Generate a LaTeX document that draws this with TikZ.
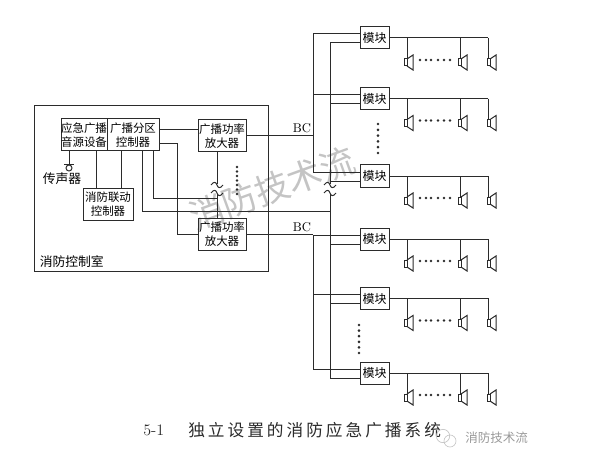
\documentclass[tikz,border=0pt]{standalone}
\usepackage{fontspec}
\usetikzlibrary{positioning}
\newfontfamily\cjk{Noto Sans CJK SC}
\newfontfamily\capfont[LetterSpace=18]{Noto Sans CJK SC}
\definecolor{ink}{HTML}{2B2B2B}
\definecolor{mark}{HTML}{C4C4C4}
\begin{document}
\begin{tikzpicture}[x=0.75pt,y=-0.75pt,
  ln/.style={draw=ink, line width=0.75pt},
  box/.style={draw=ink, line width=0.75pt, outer sep=0pt, inner sep=0pt, align=center, font=\cjk\fontsize{8.6}{11}\selectfont, minimum height=24pt},
  modbox/.style={box, minimum width=21.75pt, minimum height=16.5pt, font=\cjk\fontsize{9}{11}\selectfont},
  lbl/.style={inner sep=0pt, font=\cjk\fontsize{9.6}{11}\selectfont},
  spk/.pic={\draw[ln] (-3,0) rectangle (0,7); \draw[ln] (0,0) -- (6,-4) -- (6,11) -- (0,7);},
  tld/.pic={\draw[ln] (-6,0) .. controls (-3,-4) and (-1,-3) .. (0,0) .. controls (1,3) and (3,4) .. (6,0);}]
\useasboundingbox (0,0) rectangle (592,456);
\node[inner sep=0pt, rotate=20, text=mark, font=\cjk\fontsize{26}{26}\selectfont] (wm) at (272,188) {消防技术流};
\node[draw=ink, line width=0.75pt, minimum width=175.5pt, minimum height=123.75pt, inner sep=0pt] (room) at (151,188.5) {};
\node[lbl, anchor=south west, xshift=4.5pt, yshift=2.5pt] (roomlbl) at (room.south west) {消防控制室};
\node[box, minimum width=34.5pt] (src) at (84,135) {应急广播\\音源设备};
\node[box, minimum width=39pt, right=0pt of src] (ctrl) {广播分区\\控制器};
\node[box, minimum width=36pt, right=29.25pt of ctrl, yshift=-0.75pt] (a1) {广播功率\\放大器};
\node[box, minimum width=36pt, below=49.5pt of a1] (a2) {广播功率\\放大器};
\node[box, minimum width=37.5pt, below=27.75pt of src, xshift=18pt] (link) {消防联动\\控制器};
\node[draw=ink, line width=0.75pt, circle, minimum size=4.5pt, inner sep=0pt] (mic) at (69,168) {};
\node[lbl] (miclbl) at (62,179) {传声器};
\node[inner sep=0pt, font=\fontsize{9.5}{11}\selectfont] (bc1) at (302,128) {BC};
\node[inner sep=0pt, font=\fontsize{9.5}{11}\selectfont] (bc2) at (302,227) {BC};
\node[modbox] (m1) at (374.5,38) {模块};
\node[modbox, below=28.9pt of m1] (m2) {模块};
\node[modbox, below=41.6pt of m2] (m3) {模块};
\node[modbox, below=30.75pt of m3] (m4) {模块};
\node[modbox, below=28.1pt of m4] (m5) {模块};
\node[modbox, below=39.4pt of m5] (m6) {模块};
\coordinate (busa) at (313,0);
\coordinate (busb) at (330,0);
\coordinate (tba) at (217,184);
\coordinate (tbb) at (217,194);
\coordinate (gapa) at (330,184);
\coordinate (gapb) at (330,194);
\coordinate (tc) at (177,0);
\coordinate (ca) at (153,198);
\coordinate (cb) at (142,211);
\coordinate (la) at (96,0);
\coordinate (lb) at (121,0);
\coordinate (da) at (407,0);
\coordinate (db) at (460,0);
\coordinate (dc) at (488,0);
\coordinate (sa) at (407,0);
\coordinate (sb) at (461,0);
\coordinate (sc) at (490,0);
\draw[ln] (mic |- src.south) -- (mic.north);
\draw[ln] ([xshift=-3.75pt]mic.north) -- ([xshift=3.75pt]mic.north);
\draw[ln] (la |- src.south) -- (la |- link.north);
\draw[ln] (lb |- ctrl.south) -- (lb |- link.north);
\draw[ln] ([yshift=3.75pt]ctrl.east) -- ([yshift=3.75pt]ctrl.east -| a1.west);
\draw[ln] ([yshift=-6.75pt]ctrl.east) -| (tc |- a2.west) -- (a2.west);
\draw[ln] (ca |- ctrl.south) -- (ca) -- (ca -| tbb);
\draw[ln] (cb |- ctrl.south) -- (cb) -- (cb -| busb);
\draw[ln] (tba |- a1.south) -- (tba);
\draw[ln] (tbb) -- (tbb |- a2.north);
\path (tba) ++(0,1) pic {tld};
\path (tbb) ++(0,-1) pic {tld};
\path (gapa) ++(0,1) pic {tld};
\path (gapb) ++(0,-1) pic {tld};
\draw[ln] (a1.east) -- (a1.east -| busa);
\draw[ln] (a2.east) -- (a2.east -| busa);
\foreach \m in {m1,m2,m3,m4,m5,m6} {
  \draw[ln] ([yshift=3pt]\m.west) -- ([yshift=3pt]\m.west -| busa);
  \draw[ln] ([yshift=-3.75pt]\m.west) -- ([yshift=-3.75pt]\m.west -| busb);
}
\draw[ln] ([yshift=3pt]m1.west -| busa) -- ([yshift=3pt]m3.west -| busa);
\draw[ln] ([yshift=3pt]m4.west -| busa) -- ([yshift=3pt]m6.west -| busa);
\draw[ln] ([yshift=-3.75pt]m1.west -| busb) -- (gapa);
\draw[ln] (gapb) -- ([yshift=-3.75pt]m6.west -| busb);
\foreach \m in {m1,m2,m3,m4,m5,m6} {
  \draw[ln] (\m.east) -- (\m.east -| dc);
  \foreach \drop/\horn in {da/sa,db/sb,dc/sc} {
    \draw[ln] (\m.east -| \drop) -- ++(0,21);
    \path (\m.east -| \horn) ++(0,21) pic {spk};
  }
  \foreach \k in {31,37,42,49,55,61}
    \fill[ink] (\m.east) ++(\k,22) circle (1pt);
}
\foreach \k in {167,171.5,176,180.5,185,189.5,194}
  \fill[ink] (237,\k) circle (1.1pt);
\foreach \k in {124,129.8,135.6,141.4,147.2,153}
  \fill[ink] (378,\k) circle (1.1pt);
\foreach \k in {325,330.6,336.2,341.8,347.4,353}
  \fill[ink] (359,\k) circle (1.1pt);
\node[inner sep=0pt, anchor=west, text=ink, font=\fontsize{12}{14}\selectfont] (capnum) at (143,430) {5-1};
\node[inner sep=0pt, anchor=west, text=ink, font=\capfont\fontsize{12.5}{14}\selectfont] (cap) at (188,430) {独立设置的消防应急广播系统};
\node[draw=mark, circle, minimum size=10pt, inner sep=0pt, line width=0.5pt] (logoa) at (443,436) {};
\node[draw=mark, circle, minimum size=9pt, inner sep=0pt, line width=0.5pt] (logob) at (450,441) {};
\node[inner sep=0pt, anchor=west, text=gray!80, font=\cjk\fontsize{9.4}{11}\selectfont] (brand) at (465,438) {消防技术流};
\end{tikzpicture}
\end{document}
